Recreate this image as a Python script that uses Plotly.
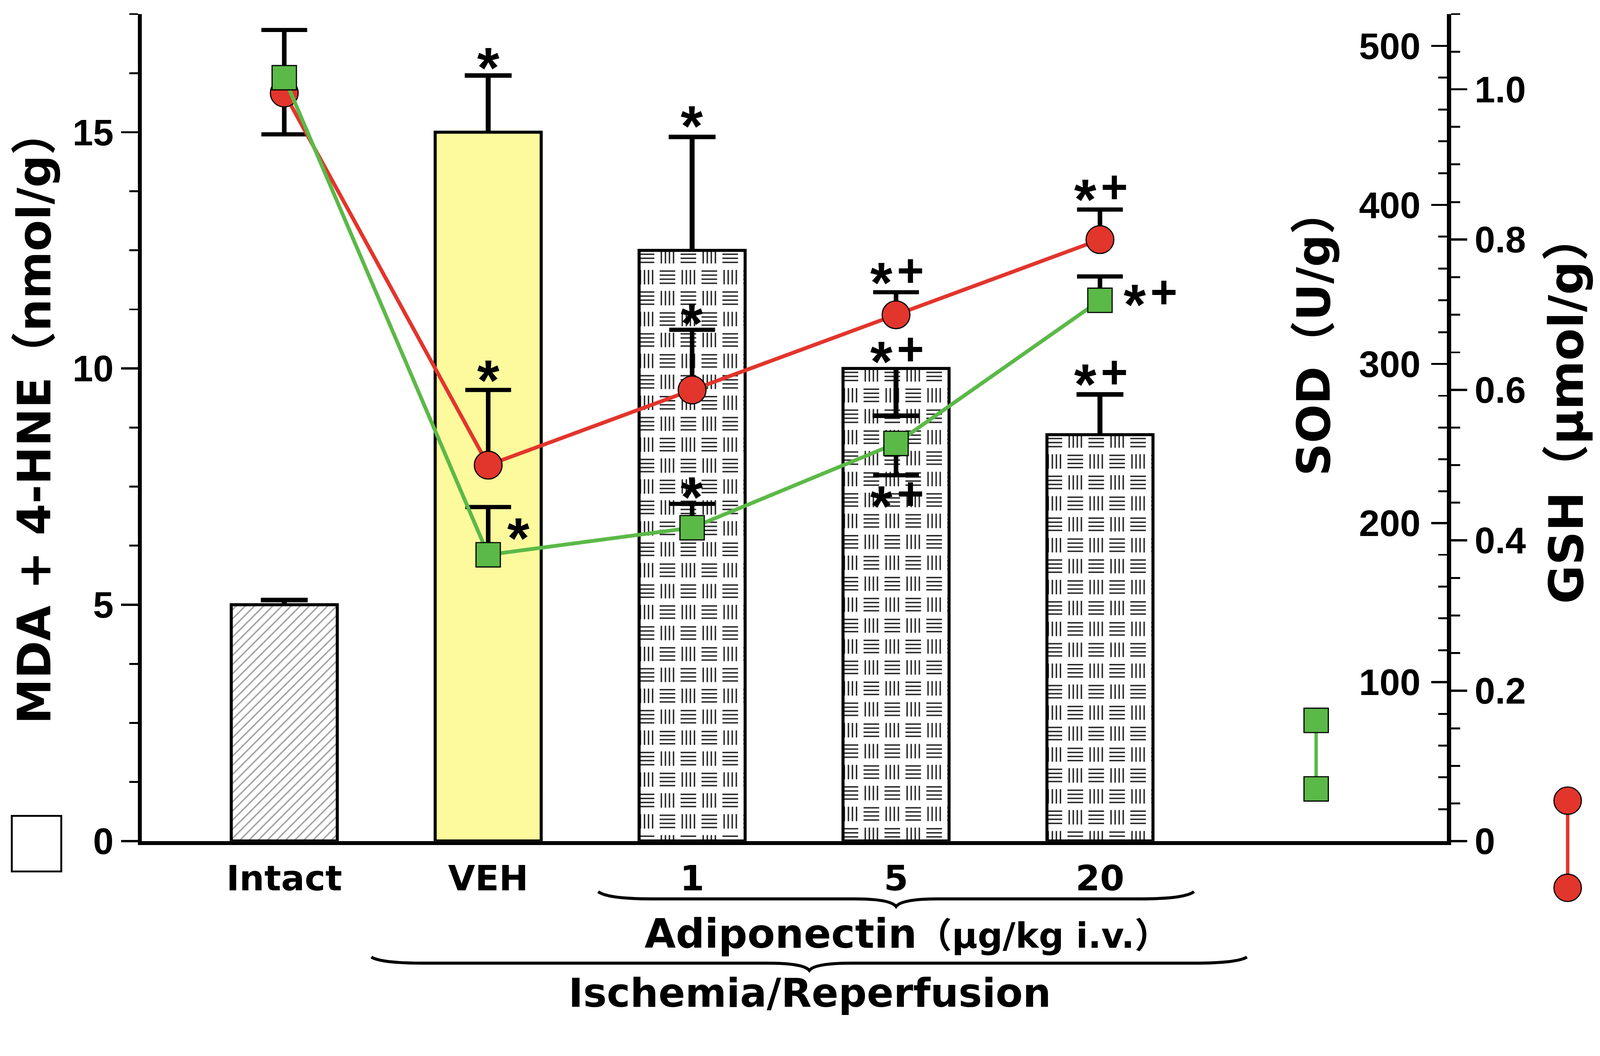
import base64
import plotly.graph_objects as go

# ---------------- data ----------------
categories = ["Intact", "VEH", "1", "5", "20"]
mda = [5.0, 15.0, 12.5, 10.0, 8.6]
mda_err_up = [0.1, 1.2, 2.4, 0.0, 0.85]
mda_err_down = [0.0, 0.0, 0.0, 1.0, 0.0]
sod = [480, 180, 197, 250, 340]
sod_err_up = [30, 30, 15, 0, 15]
sod_err_down = [0, 0, 0, 20, 0]
gsh = [0.995, 0.50, 0.60, 0.70, 0.80]
gsh_err_up = [0.0, 0.10, 0.08, 0.03, 0.04]
gsh_err_down = [0.055, 0.0, 0.0, 0.0, 0.0]

mda_range = [0, 17.5]
sod_range = [0, 520]
gsh_range = [0, 1.1]
sod_ticks = [100, 200, 300, 400, 500]
gsh_ticks = [0, 0.2, 0.4, 0.6, 0.8, 1.0]
gsh_ticktext = ["0", "0.2", "0.4", "0.6", "0.8", "1.0"]

# significance marks (text, x in category units, y in MDA units)
sig_marks = [("*", 1.0, 16.63), ("*", 1.0, 10.02), ("*", 1.149, 6.68),
             ("*", 2.0, 15.40), ("*", 2.0, 11.23), ("*", 2.0, 7.55),
             ("*+", 3.0, 12.08), ("*+", 3.0, 10.41), ("*+", 3.0, 7.35),
             ("*+", 4.0, 13.84), ("*+", 4.241, 11.62), ("*+", 4.0, 9.93)]

# ---------------- layout constants ----------------
W, H = 4205, 2703
L, R, T, B = 373, 402, 37, 493
PW, PH = W - L - R, H - T - B
XR = [-0.698, 5.702]
BAR_W = 0.52
RED = "#e2352c"
GREEN = "#5bb947"
YELLOW = "#fcfa9d"
TICKFONT = dict(family="Liberation Sans", size=97, color="black", weight="bold")
TITLEFONT = "DejaVu Sans, Noto Sans CJK SC"


def X(px):
    return (px - L) / PW


def Y(py):
    return (H - B - py) / PH


idx = list(range(len(categories)))


def err_segments(xs, ys, ups, downs):
    sx, sy, cx, cy = [], [], [], []
    for x, y, u, d in zip(xs, ys, ups, downs):
        for e in (u, -d):
            if e:
                sx += [x, x, None]
                sy += [y, y + e, None]
                cx.append(x)
                cy.append(y + e)
    return sx, sy, cx, cy


def weave_uri(wpx, hpx):
    s = 55.0
    parts = []
    for ox, oy, kind in ((0, 0, "h"), (s, 0, "v"), (0, s, "v"), (s, s, "h")):
        cx, cy = ox + s / 2, oy + s / 2
        for k in range(4):
            d = -16 + k * 10.67
            if kind == "h":
                parts.append(f"<line x1='{cx-20.5:.1f}' y1='{cy+d:.1f}' x2='{cx+20.5:.1f}' y2='{cy+d:.1f}'/>")
            else:
                parts.append(f"<line x1='{cx+d:.1f}' y1='{cy-19:.1f}' x2='{cx+d:.1f}' y2='{cy+19:.1f}'/>")
    svg = (f"<svg xmlns='http://www.w3.org/2000/svg' width='{wpx:.1f}' height='{hpx:.1f}' "
           f"viewBox='0 0 {wpx:.1f} {hpx:.1f}' preserveAspectRatio='none'>"
           f"<defs><pattern id='w' patternUnits='userSpaceOnUse' x='-8' y='-12' width='{2*s}' height='{2*s}'>"
           f"<g stroke='#1e1e1e' stroke-width='3.6'>{''.join(parts)}</g></pattern></defs>"
           f"<rect x='0' y='0' width='{wpx:.1f}' height='{hpx:.1f}' fill='white'/>"
           f"<rect x='0' y='0' width='{wpx:.1f}' height='{hpx:.1f}' fill='url(#w)'/></svg>")
    return "data:image/svg+xml;base64," + base64.b64encode(svg.encode()).decode()


fig = go.Figure()

# bars (MDA + 4-HNE)
bar_colors = ["white", YELLOW, "rgba(0,0,0,0)", "rgba(0,0,0,0)", "rgba(0,0,0,0)"]
fig.add_trace(go.Bar(
    x=idx, y=mda, width=BAR_W, yaxis="y",
    marker=dict(color=bar_colors, line=dict(color="black", width=8),
                pattern=dict(shape=["/", "", "", "", ""], fgcolor="#222", size=17, solidity=0.22)),
    hoverinfo="skip"))

# bar error bars
sx, sy, cx, cy = err_segments(idx, mda, mda_err_up, mda_err_down)
fig.add_trace(go.Scatter(x=sx, y=sy, mode="lines", line=dict(color="black", width=13), yaxis="y", hoverinfo="skip"))
fig.add_trace(go.Scatter(x=cx, y=cy, mode="markers", yaxis="y", hoverinfo="skip",
                         marker=dict(symbol="line-ew", size=88, line=dict(color="black", width=12))))

# GSH (red) on y2
sx, sy, cx, cy = err_segments(idx, gsh, gsh_err_up, gsh_err_down)
fig.add_trace(go.Scatter(x=sx, y=sy, mode="lines", line=dict(color="black", width=12), yaxis="y2", hoverinfo="skip"))
fig.add_trace(go.Scatter(x=cx, y=cy, mode="markers", yaxis="y2", hoverinfo="skip",
                         marker=dict(symbol="line-ew", size=86, line=dict(color="black", width=11))))
fig.add_trace(go.Scatter(x=idx, y=gsh, mode="lines+markers", yaxis="y2", hoverinfo="skip",
                         line=dict(color=RED, width=10),
                         marker=dict(symbol="circle", size=73, color=RED, line=dict(color="black", width=3))))

# SOD (green) on y3
sx, sy, cx, cy = err_segments(idx, sod, sod_err_up, sod_err_down)
fig.add_trace(go.Scatter(x=sx, y=sy, mode="lines", line=dict(color="black", width=12), yaxis="y3", hoverinfo="skip"))
fig.add_trace(go.Scatter(x=cx, y=cy, mode="markers", yaxis="y3", hoverinfo="skip",
                         marker=dict(symbol="line-ew", size=86, line=dict(color="black", width=11))))
fig.add_trace(go.Scatter(x=idx, y=sod, mode="lines+markers", yaxis="y3", hoverinfo="skip",
                         line=dict(color=GREEN, width=10),
                         marker=dict(symbol="square", size=64, color=GREEN, line=dict(color="black", width=3))))

# basket-weave texture for adiponectin bars
px_per_x = PW / (XR[1] - XR[0])
px_per_y = PH / (mda_range[1] - mda_range[0])
images = []
for i in (2, 3, 4):
    images.append(dict(source=weave_uri(BAR_W * px_per_x, mda[i] * px_per_y),
                       xref="x", yref="y", x=i - BAR_W / 2, y=mda[i],
                       sizex=BAR_W, sizey=mda[i], xanchor="left", yanchor="top",
                       sizing="stretch", layer="below"))

STAR = dict(family="Liberation Sans", size=150, color="black", weight="bold")
PLUS = dict(family="Liberation Sans", size=122, color="black", weight="bold")
annotations = []
for text, x, y in sig_marks:
    if text == "*":
        annotations.append(dict(x=x, y=y, xref="x", yref="y", text="*", showarrow=False,
                                xanchor="center", yanchor="middle", yshift=-33, font=STAR))
    else:
        annotations.append(dict(x=x, y=y, xref="x", yref="y", text="*", showarrow=False, xshift=-38,
                                xanchor="center", yanchor="middle", yshift=-33, font=STAR))
        annotations.append(dict(x=x, y=y, xref="x", yref="y", text="+", showarrow=False, xshift=38,
                                xanchor="center", yanchor="middle", font=PLUS))

annotations += [
    dict(x=X(90), y=Y(1095), xref="paper", yref="paper", text="MDA + 4-HNE（nmol/g）", textangle=-90,
         xanchor="center", yanchor="middle",
         showarrow=False, font=dict(family=TITLEFONT, size=120, color="black", weight="bold")),
    dict(x=X(3454), y=Y(874), xref="paper", yref="paper", text="SOD（U/g）", textangle=-90,
         xanchor="center", yanchor="middle",
         showarrow=False, font=dict(family=TITLEFONT, size=120, color="black", weight="bold")),
    dict(x=X(4117), y=Y(1075), xref="paper", yref="paper", text="GSH（µmol/g）", textangle=-90,
         xanchor="center", yanchor="middle",
         showarrow=False, font=dict(family=TITLEFONT, size=124, color="black", weight="bold")),
    dict(x=X(2384), y=Y(2454), xref="paper", yref="paper",
         text="Adiponectin<span style='font-size:92px'>（µg/kg i.v.）</span>",
         xanchor="center", yanchor="middle",
         showarrow=False, font=dict(family=TITLEFONT, size=106, color="black", weight="bold")),
    dict(x=X(2128), y=Y(2610), xref="paper", yref="paper", text="Ischemia/Reperfusion",
         xanchor="center", yanchor="middle",
         showarrow=False, font=dict(family=TITLEFONT, size=104, color="black", weight="bold")),
]


def brace(x0, x1, xm, yend, yline, ytip):
    return (f"M{X(x0)},{Y(yend)} Q{X(x0+25)},{Y(yline)} {X(x0+140)},{Y(yline)} "
            f"L{X(xm-110)},{Y(yline)} Q{X(xm-15)},{Y(yline)} {X(xm)},{Y(ytip)} "
            f"Q{X(xm+15)},{Y(yline)} {X(xm+110)},{Y(yline)} "
            f"L{X(x1-140)},{Y(yline)} Q{X(x1-25)},{Y(yline)} {X(x1)},{Y(yend)}")


shapes = [
    dict(type="path", xref="paper", yref="paper", path=brace(1572, 3138, 2355, 2343, 2362, 2382),
         line=dict(color="black", width=8)),
    dict(type="path", xref="paper", yref="paper", path=brace(976, 3277, 2127, 2515, 2531, 2550),
         line=dict(color="black", width=8)),
    # legend keys
    dict(type="rect", xref="paper", yref="paper", x0=X(31), x1=X(161), y0=Y(2290), y1=Y(2144),
         line=dict(color="black", width=5), fillcolor="white"),
    dict(type="line", xref="paper", yref="paper", x0=X(3459), x1=X(3459), y0=Y(1893), y1=Y(2073),
         line=dict(color=GREEN, width=9)),
    dict(type="rect", xref="paper", yref="paper", x0=X(3427), x1=X(3491), y0=Y(1925), y1=Y(1861),
         line=dict(color="black", width=3), fillcolor=GREEN),
    dict(type="rect", xref="paper", yref="paper", x0=X(3427), x1=X(3491), y0=Y(2105), y1=Y(2041),
         line=dict(color="black", width=3), fillcolor=GREEN),
    dict(type="line", xref="paper", yref="paper", x0=X(4120), x1=X(4120), y0=Y(2104), y1=Y(2333),
         line=dict(color=RED, width=9)),
    dict(type="circle", xref="paper", yref="paper", x0=X(4084), x1=X(4156), y0=Y(2140), y1=Y(2068),
         line=dict(color="black", width=3), fillcolor=RED),
    dict(type="circle", xref="paper", yref="paper", x0=X(4084), x1=X(4156), y0=Y(2369), y1=Y(2297),
         line=dict(color="black", width=3), fillcolor=RED),
]

fig.update_layout(
    width=W, height=H,
    margin=dict(l=L, r=R, t=T, b=B, autoexpand=False),
    paper_bgcolor="white", plot_bgcolor="white",
    showlegend=False,
    xaxis=dict(range=XR, tickmode="array", tickvals=idx, ticktext=categories,
               showline=True, linewidth=11, linecolor="black", ticks="", showgrid=False, zeroline=False,
               ticklabelstandoff=8,
               tickfont=dict(family=TITLEFONT, size=92, color="black", weight="bold")),
    yaxis=dict(range=mda_range, tick0=0, dtick=5, showline=True, linewidth=11, linecolor="black",
               ticks="outside", ticklen=44, tickwidth=6, tickcolor="black",
               minor=dict(tickmode="linear", tick0=0, dtick=1.25, ticks="outside", ticklen=22,
                          tickwidth=5, tickcolor="black"),
               showgrid=False, zeroline=False, tickfont=TICKFONT),
    yaxis2=dict(range=gsh_range, overlaying="y", side="right", anchor="x",
                tickmode="array", tickvals=gsh_ticks, ticktext=gsh_ticktext,
                showline=True, linewidth=11, linecolor="black",
                ticks="outside", ticklen=42, tickwidth=6, tickcolor="black",
                minor=dict(tickmode="linear", tick0=0, dtick=0.05, ticks="outside", ticklen=23,
                           tickwidth=5, tickcolor="black"),
                showgrid=False, zeroline=False, tickfont=TICKFONT),
    yaxis3=dict(range=sod_range, overlaying="y", side="right", anchor="x",
                tickmode="array", tickvals=sod_ticks,
                showline=True, linewidth=11, linecolor="black",
                ticks="inside", ticklen=42, tickwidth=6, tickcolor="black", ticklabelposition="inside",
                ticklabelstandoff=44,
                minor=dict(tickmode="linear", tick0=0, dtick=20, ticks="inside", ticklen=23,
                           tickwidth=5, tickcolor="black"),
                showgrid=False, zeroline=False, tickfont=TICKFONT),
    images=images,
    annotations=annotations,
    shapes=shapes,
)

# fit the fixed-size figure into whatever viewport the page gets (no-op at 4205x2703)
FIT_JS = """
var gd = document.getElementById('{plot_id}');
document.documentElement.style.margin = '0';
document.body.style.margin = '0';
document.body.style.overflow = 'hidden';
var s = Math.min(window.innerWidth / 4205, window.innerHeight / 2703);
if (isFinite(s) && s > 0 && Math.abs(s - 1) > 0.002) {
  gd.style.transformOrigin = '0 0';
  gd.style.transform = 'scale(' + s + ')';
}
"""

fig.write_html("out.html", post_script=FIT_JS, config={"displayModeBar": False})
